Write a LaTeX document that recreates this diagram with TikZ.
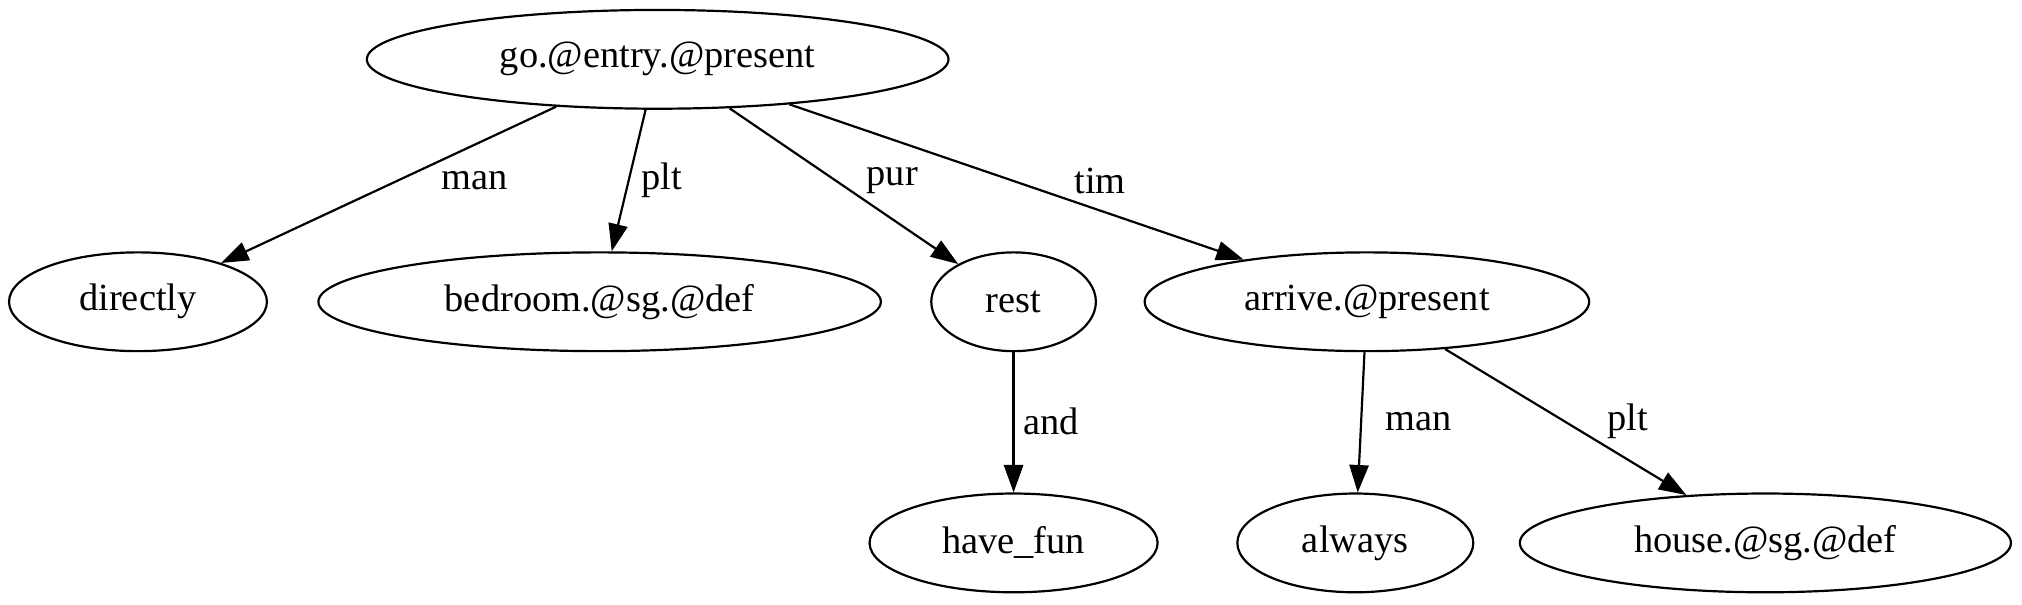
\documentclass[tikz,border=0pt]{standalone}
\usepackage{fontspec}
\setmainfont{Liberation Serif}
\usetikzlibrary{shapes.geometric,arrows.meta}

\begin{document}
\begin{tikzpicture}[x=0.47pt, y=-0.47pt, >={Triangle[length=10pt,width=7pt]},
	every node/.style={font=\fontsize{14}{16}\selectfont},
	word/.style={draw, ellipse, line width=0.8pt, minimum height=36pt, inner sep=0pt},
	link/.style={->, line width=0.8pt}]

			\useasboundingbox (0,0) rectangle (1568,469);

			% top node
			\node [word, minimum width=212pt] (go) at (510,46) {go.@entry.@present};

			% second row
			\foreach \n/\w/\x/\t in {directly/94/107/directly, bedroom/205/465/bedroom.@sg.@def,
				rest/60/786/rest, arrive/162/1060/arrive.@present}
				\node [word, minimum width=\w pt] (\n) at (\x,234) {\t};

			% third row
			\foreach \n/\w/\x/\t in {havefun/105/786/have\_fun, always/86/1051/always,
				house/179/1369/house.@sg.@def}
				\node [word, minimum width=\w pt] (\n) at (\x,421) {\t};

			% edges with their labels
			\foreach \a/\b/\l/\lx/\ly in {go/directly/man/368/140, go/bedroom/plt/513/140,
				go/rest/pur/692/140, go/arrive/tim/853/140, rest/havefun/and/815/327,
				arrive/always/man/1100/327, arrive/house/plt/1262/327}
			{
				\draw [link] (\a) -- (\b);
				\node (lbl-\a-\b) at (\lx,\ly) {\l};
			}

\end{tikzpicture}
\end{document}
